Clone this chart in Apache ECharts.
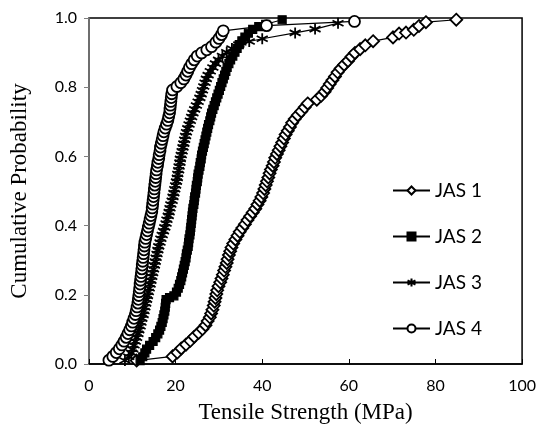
<!DOCTYPE html>
<html>
<head>
<meta charset="utf-8">
<script src="https://cdn.jsdelivr.net/npm/echarts@6/dist/echarts.min.js"></script>
<style>html,body{margin:0;padding:0;background:#fff}#c{width:539px;height:429px}</style>
</head>
<body>
<div id="c"></div>
<script>
const seriesNames = ['JAS 1', 'JAS 2', 'JAS 3', 'JAS 4'];
const xTicks = [0, 20, 40, 60, 80, 100];
const yTicks = [0.0, 0.2, 0.4, 0.6, 0.8, 1.0];

const jas1 = [[11.0,0.010],[19.3,0.022],[20.4,0.033],[21.3,0.045],[22.4,0.056],[23.4,0.067],[24.3,0.079],[25.3,0.090],[26.2,0.101],[26.9,0.112],[27.4,0.124],[27.9,0.135],[28.2,0.146],[28.5,0.157],[28.8,0.169],[29.0,0.180],[29.2,0.191],[29.4,0.202],[29.6,0.213],[29.9,0.225],[30.3,0.236],[30.6,0.247],[30.9,0.258],[31.2,0.270],[31.5,0.281],[31.8,0.292],[32.0,0.303],[32.3,0.315],[32.6,0.326],[32.9,0.337],[33.3,0.348],[33.8,0.360],[34.3,0.371],[34.8,0.382],[35.4,0.393],[36.0,0.404],[36.6,0.416],[37.2,0.427],[37.8,0.438],[38.4,0.449],[38.9,0.461],[39.4,0.472],[39.8,0.483],[40.2,0.494],[40.5,0.506],[40.8,0.517],[41.1,0.528],[41.4,0.539],[41.7,0.551],[42.0,0.562],[42.4,0.573],[42.7,0.584],[43.0,0.596],[43.4,0.607],[43.8,0.618],[44.2,0.629],[44.6,0.640],[45.0,0.652],[45.4,0.663],[45.9,0.674],[46.4,0.685],[46.9,0.697],[47.5,0.708],[48.2,0.719],[49.0,0.730],[49.8,0.742],[50.5,0.753],[52.6,0.764],[53.6,0.775],[54.4,0.787],[55.0,0.798],[55.6,0.809],[56.2,0.820],[56.8,0.831],[57.4,0.843],[58.1,0.854],[58.9,0.865],[59.8,0.876],[60.6,0.888],[61.4,0.899],[62.6,0.910],[63.8,0.921],[65.6,0.933],[70.2,0.944],[71.6,0.955],[73.2,0.958],[75.0,0.966],[76.2,0.977],[77.8,0.988],[84.8,0.995]];

const jas2 = [[11.8,0.010],[12.4,0.021],[12.9,0.032],[13.3,0.043],[14.0,0.054],[14.8,0.065],[15.4,0.076],[15.9,0.087],[16.3,0.098],[16.6,0.109],[16.9,0.120],[17.1,0.131],[17.3,0.142],[17.5,0.153],[17.6,0.164],[17.7,0.175],[17.8,0.186],[18.6,0.192],[19.6,0.197],[20.2,0.208],[20.6,0.219],[20.9,0.230],[21.2,0.241],[21.4,0.252],[21.6,0.263],[21.8,0.274],[22.0,0.285],[22.2,0.296],[22.4,0.307],[22.5,0.318],[22.7,0.329],[22.9,0.340],[23.0,0.351],[23.1,0.362],[23.3,0.373],[23.4,0.384],[23.5,0.395],[23.6,0.406],[23.7,0.417],[23.8,0.428],[23.9,0.439],[24.0,0.450],[24.2,0.461],[24.3,0.472],[24.4,0.483],[24.6,0.494],[24.7,0.505],[24.8,0.516],[25.0,0.527],[25.1,0.538],[25.2,0.549],[25.4,0.560],[25.6,0.571],[25.7,0.582],[25.9,0.593],[26.0,0.604],[26.2,0.615],[26.4,0.626],[26.6,0.637],[26.8,0.648],[27.0,0.659],[27.2,0.670],[27.4,0.681],[27.6,0.692],[27.9,0.703],[28.1,0.714],[28.3,0.725],[28.6,0.736],[28.9,0.747],[29.2,0.758],[29.5,0.769],[29.8,0.780],[30.1,0.791],[30.4,0.802],[30.7,0.813],[31.0,0.824],[31.3,0.835],[31.6,0.846],[31.9,0.857],[32.3,0.868],[32.7,0.879],[33.2,0.890],[33.7,0.901],[34.2,0.912],[34.7,0.923],[35.3,0.934],[36.0,0.945],[36.8,0.956],[37.8,0.967],[39.2,0.975],[40.8,0.982],[44.6,0.995]];

const jas3 = [[8.3,0.010],[9.2,0.021],[9.8,0.032],[10.1,0.043],[10.4,0.054],[10.7,0.065],[11.0,0.076],[11.3,0.087],[11.5,0.098],[11.8,0.109],[12.0,0.120],[12.2,0.131],[12.5,0.142],[12.7,0.153],[12.9,0.164],[13.1,0.175],[13.3,0.186],[13.5,0.197],[13.7,0.208],[13.9,0.219],[14.1,0.230],[14.3,0.241],[14.5,0.252],[14.7,0.263],[14.9,0.274],[15.1,0.285],[15.3,0.296],[15.5,0.307],[15.7,0.318],[15.9,0.329],[16.1,0.340],[16.4,0.351],[16.6,0.362],[16.9,0.373],[17.2,0.384],[17.5,0.395],[17.8,0.406],[18.0,0.417],[18.3,0.428],[18.5,0.439],[18.7,0.450],[18.9,0.461],[19.2,0.472],[19.4,0.483],[19.6,0.494],[19.8,0.505],[20.0,0.516],[20.2,0.527],[20.4,0.538],[20.5,0.549],[20.7,0.560],[20.8,0.571],[21.0,0.582],[21.1,0.593],[21.3,0.604],[21.5,0.615],[21.7,0.626],[21.9,0.637],[22.1,0.648],[22.3,0.659],[22.5,0.670],[22.8,0.681],[23.1,0.692],[23.4,0.703],[23.7,0.714],[24.0,0.725],[24.4,0.736],[24.8,0.747],[25.2,0.758],[25.6,0.769],[25.9,0.780],[26.2,0.791],[26.5,0.802],[26.8,0.813],[27.1,0.824],[27.5,0.835],[28.0,0.846],[28.6,0.857],[29.2,0.868],[29.9,0.879],[30.8,0.890],[31.8,0.901],[33.0,0.912],[34.6,0.923],[37.0,0.932],[40.0,0.940],[47.6,0.957],[52.2,0.968],[57.5,0.985]];

const jas4 = [[4.6,0.011],[5.5,0.022],[6.3,0.033],[7.0,0.044],[7.6,0.055],[8.1,0.066],[8.6,0.077],[9.0,0.088],[9.4,0.099],[9.8,0.110],[10.1,0.121],[10.4,0.132],[10.7,0.143],[10.9,0.154],[11.1,0.165],[11.3,0.176],[11.4,0.187],[11.5,0.198],[11.6,0.209],[11.7,0.220],[11.8,0.231],[11.9,0.242],[12.0,0.253],[12.1,0.264],[12.2,0.275],[12.3,0.286],[12.4,0.297],[12.5,0.308],[12.6,0.319],[12.7,0.330],[12.8,0.341],[12.9,0.352],[13.1,0.363],[13.3,0.374],[13.5,0.385],[13.7,0.396],[13.9,0.407],[14.1,0.418],[14.3,0.429],[14.5,0.440],[14.6,0.451],[14.7,0.462],[14.8,0.473],[14.9,0.484],[15.0,0.495],[15.1,0.506],[15.2,0.517],[15.3,0.528],[15.4,0.539],[15.5,0.550],[15.6,0.561],[15.8,0.572],[15.9,0.583],[16.1,0.594],[16.2,0.605],[16.4,0.616],[16.5,0.627],[16.7,0.638],[16.9,0.649],[17.1,0.660],[17.3,0.671],[17.6,0.682],[17.9,0.693],[18.2,0.704],[18.4,0.715],[18.6,0.726],[18.7,0.737],[18.8,0.748],[18.9,0.759],[19.0,0.770],[19.1,0.781],[19.3,0.792],[20.3,0.802],[21.2,0.813],[21.9,0.824],[22.4,0.835],[22.8,0.846],[23.2,0.857],[23.7,0.868],[24.3,0.879],[25.0,0.890],[26.0,0.899],[27.2,0.908],[28.3,0.917],[29.3,0.930],[30.0,0.941],[30.6,0.952],[31.0,0.963],[41.0,0.978],[61.3,0.990]];

const asterisk = 'path://M5,0L5,10M0.67,2.5L9.33,7.5M9.33,2.5L0.67,7.5';

const chart = echarts.init(document.getElementById('c'), null, {renderer: 'canvas'});
const tickFont = {fontFamily: 'Lato', fontSize: 16, color: '#000'};
function mk(name, data, symbol, size, fill, bw) {
  return {
    name: name, type: 'line', data: data, symbol: symbol, symbolSize: size,
    showSymbol: true, animation: false,
    lineStyle: {color: '#000', width: 1.2},
    itemStyle: {color: fill, borderColor: '#000', borderWidth: bw}
  };
}
chart.setOption({
  animation: false,
  backgroundColor: '#fff',
  grid: {left: 83.7, right: 15.3, top: 18, bottom: 63, show: true, borderColor: '#000', borderWidth: 1.5, backgroundColor: 'transparent'},
  legend: {
    orient: 'vertical', left: 387, top: 176, itemWidth: 37, itemHeight: 10, itemGap: 27,
    textStyle: {fontFamily: 'Lato', fontSize: 19, color: '#000'},
    data: seriesNames
  },
  xAxis: {
    type: 'value', min: xTicks[0], max: xTicks[xTicks.length - 1], interval: 20,
    name: 'Tensile Strength (MPa)', nameLocation: 'middle', nameGap: 37,
    nameTextStyle: {fontFamily: 'Liberation Serif', fontSize: 23, color: '#000'},
    axisLine: {lineStyle: {color: '#000', width: 1.5}},
    axisTick: {inside: true, length: 5, lineStyle: {color: '#000'}},
    axisLabel: Object.assign({margin: 14}, tickFont),
    splitLine: {show: false}
  },
  yAxis: {
    type: 'value', min: yTicks[0], max: yTicks[yTicks.length - 1], interval: 0.2,
    name: 'Cumulative Probability', nameLocation: 'middle', nameGap: 58,
    nameTextStyle: {fontFamily: 'Liberation Serif', fontSize: 23, color: '#000'},
    axisLine: {lineStyle: {color: '#7f7f7f', width: 1.5}},
    axisTick: {inside: false, length: 5, lineStyle: {color: '#7f7f7f'}},
    axisLabel: Object.assign({margin: 12, formatter: v => v.toFixed(1)}, tickFont),
    splitLine: {show: false}
  },
  series: [
    mk(seriesNames[0], jas1, 'diamond', 12, '#fff', 1.8),
    mk(seriesNames[1], jas2, 'rect', 8, '#000', 1.2),
    mk(seriesNames[2], jas3, asterisk, 11, '#000', 1.8),
    mk(seriesNames[3], jas4, 'circle', 11, '#fff', 1.8)
  ]
});
</script>
</body>
</html>
